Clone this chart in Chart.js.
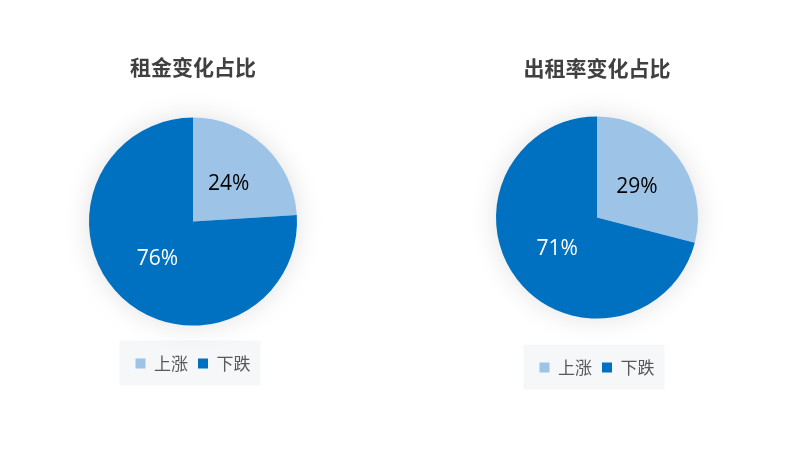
<!DOCTYPE html>
<html>
<head>
<meta charset="utf-8">
<script src="https://cdn.jsdelivr.net/npm/chart.js@4/dist/chart.umd.min.js"></script>
<style>
  html, body { margin: 0; padding: 0; background: #ffffff; }
  #wrap { position: relative; width: 800px; height: 456px; overflow: hidden; }
  .box { position: absolute; top: 0; height: 456px; }
</style>
</head>
<body>
<div id="wrap">
  <div class="box" style="left:0px;width:386px;"><canvas id="c1"></canvas></div>
  <div class="box" style="left:400px;width:394px;"><canvas id="c2"></canvas></div>
</div>
<script>
// ---- data ----
const categories = ['上涨', '下跌'];
const rentValues = [24, 76];
const occupancyValues = [29, 71];
const titles = ['租金变化占比', '出租率变化占比'];
const sliceColors = ['#9DC3E6', '#0070C0'];
const labelColors = ['#000000', '#ffffff'];

const pieShadow = {
  id: 'pieShadow',
  beforeDatasetsDraw(chart) {
    const arc = chart.getDatasetMeta(0).data[0];
    if (!arc) return;
    const ctx = chart.ctx;
    ctx.save();
    ctx.shadowColor = 'rgba(0,0,0,0.13)';
    ctx.shadowBlur = 28;
    ctx.fillStyle = '#ffffff';
    ctx.beginPath();
    ctx.arc(arc.x, arc.y, arc.outerRadius - 1, 0, Math.PI * 2);
    ctx.fill();
    ctx.restore();
  }
};

const sliceLabels = {
  id: 'sliceLabels',
  afterDatasetsDraw(chart) {
    const ctx = chart.ctx;
    const meta = chart.getDatasetMeta(0);
    const data = chart.data.datasets[0].data;
    ctx.save();
    ctx.font = '21px "Open Sans", "DejaVu Sans", sans-serif';
    ctx.textAlign = 'center';
    ctx.textBaseline = 'middle';
    meta.data.forEach((arc, i) => {
      const p = arc.tooltipPosition();
      ctx.fillStyle = labelColors[i];
      ctx.fillText(data[i] + '%', p.x, p.y);
    });
    ctx.restore();
  }
};

const legendBg = {
  id: 'legendBg',
  beforeDraw(chart) {
    const lg = chart.legend;
    if (!lg || !lg.legendHitBoxes || !lg.legendHitBoxes.length) return;
    const hb = lg.legendHitBoxes;
    let minX = Infinity, maxX = -Infinity, cy = 0;
    hb.forEach(h => {
      minX = Math.min(minX, h.left);
      maxX = Math.max(maxX, h.left + h.width);
      cy = h.top + h.height / 2;
    });
    const ctx = chart.ctx;
    ctx.save();
    ctx.fillStyle = '#f6f7f9';
    ctx.fillRect(minX - 16, cy - 23, (maxX - minX) + 26, 45);
    ctx.restore();
  }
};

function makePie(id, values, title, pad) {
  return new Chart(document.getElementById(id), {
    type: 'pie',
    data: {
      labels: categories,
      datasets: [{
        data: values,
        backgroundColor: sliceColors,
        borderWidth: 0,
        hoverOffset: 0
      }]
    },
    options: {
      responsive: true,
      maintainAspectRatio: false,
      animation: false,
      events: [],
      layout: { padding: pad.layout },
      plugins: {
        title: {
          display: true,
          text: title,
          color: '#404040',
          font: { family: '"Noto Sans CJK SC", sans-serif', size: 21, weight: 'bold', lineHeight: 1.2 },
          padding: { top: 0, bottom: pad.titleBottom }
        },
        legend: {
          display: true,
          position: 'bottom',
          labels: {
            color: '#595959',
            boxWidth: 10,
            boxHeight: 10,
            padding: 10,
            font: { family: '"Noto Sans CJK SC", sans-serif', size: 17 }
          }
        },
        tooltip: { enabled: false }
      }
    },
    plugins: [legendBg, pieShadow, sliceLabels]
  });
}

makePie('c1', rentValues, titles[0], {
  layout: { top: 54, bottom: 74, left: 89, right: 89 },
  titleBottom: 19
});
makePie('c2', occupancyValues, titles[1], {
  layout: { top: 55, bottom: 70, left: 96, right: 96 },
  titleBottom: 6
});
</script>
</body>
</html>
